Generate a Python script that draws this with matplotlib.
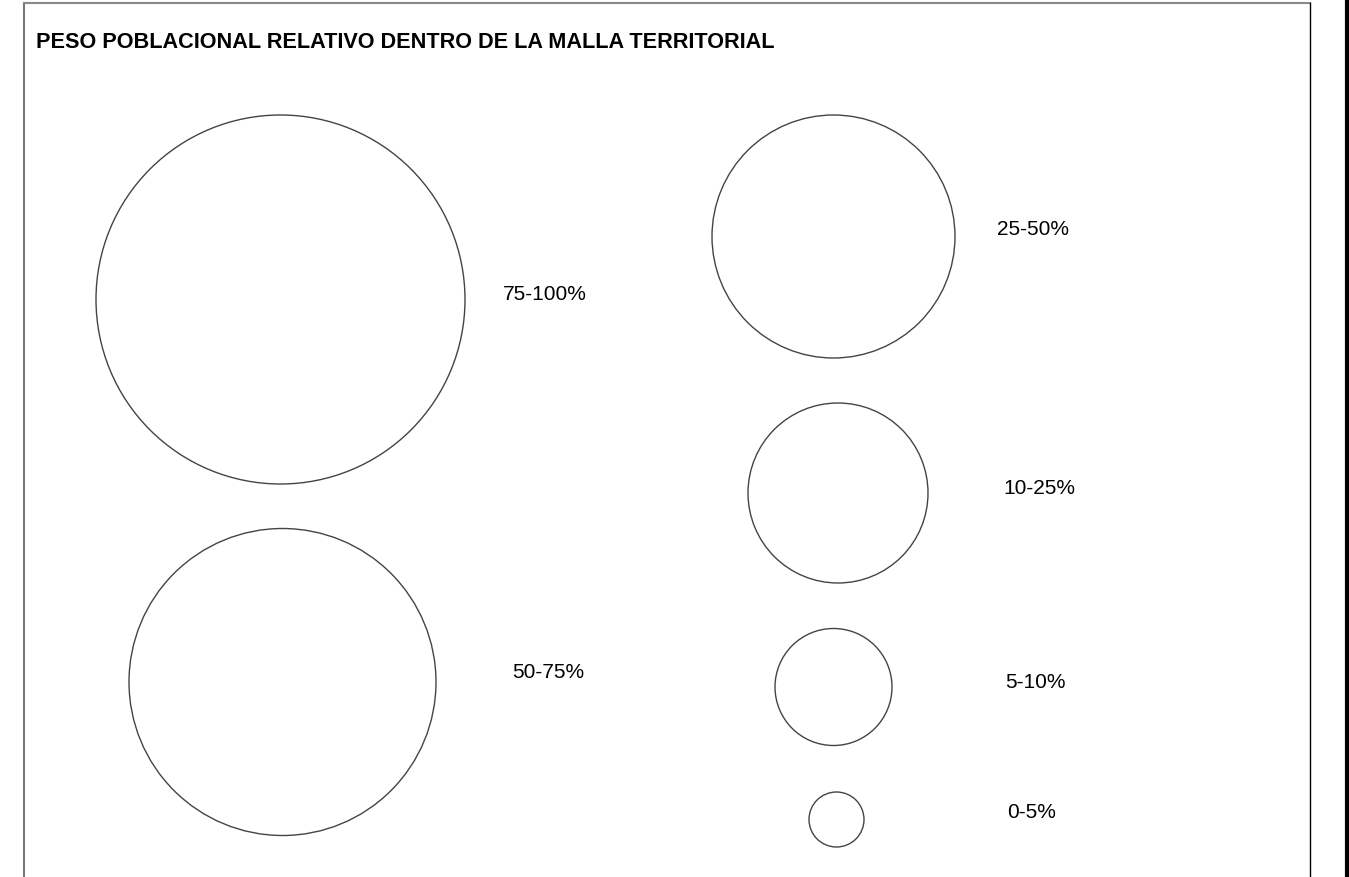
import matplotlib.pyplot as plt
from matplotlib.patches import Circle

# legend classes and symbol radii (pixels)
labels = ["75-100%", "50-75%", "25-50%", "10-25%", "5-10%", "0-5%"]
radii = [184.5, 153.5, 121.5, 90, 58.5, 27.5]

# layout: circle centres and label anchors
centres = [(280.5, 300.5), (282.5, 683), (833.5, 237.5),
           (838, 494), (833.5, 688), (836.5, 820.5)]
label_pos = [(503, 295), (512, 673), (997, 230),
             (1003, 489), (1005, 683), (1007, 813)]

plt.rcParams["font.family"] = ["Liberation Sans", "DejaVu Sans"]

fig = plt.figure(figsize=(13.49, 8.78), dpi=100)
ax = fig.add_axes([0, 0, 1, 1])
ax.set_xlim(0, 1349)
ax.set_ylim(878, 0)
ax.set_aspect("equal")
ax.axis("off")

# frame
ax.plot([24, 24], [878, 4], color="#777777", linewidth=1.5)
ax.plot([24, 1310], [4, 4], color="#888888", linewidth=1.5)
ax.plot([1310, 1310], [4, 878], color="black", linewidth=1)
ax.plot([1346.5, 1346.5], [0, 878], color="black", linewidth=3)

ax.text(36, 42, "PESO POBLACIONAL RELATIVO DENTRO DE LA MALLA TERRITORIAL",
        fontsize=15.6, fontweight="bold", va="center", ha="left")

for (cx, cy), r in zip(centres, radii):
    ax.add_patch(Circle((cx, cy), r, fill=False, edgecolor="#444444",
                        linewidth=1))

for (x, y), l in zip(label_pos, labels):
    ax.text(x, y, l, fontsize=15, va="center", ha="left")

fig.savefig("out.png", dpi=100)
plt.close()
